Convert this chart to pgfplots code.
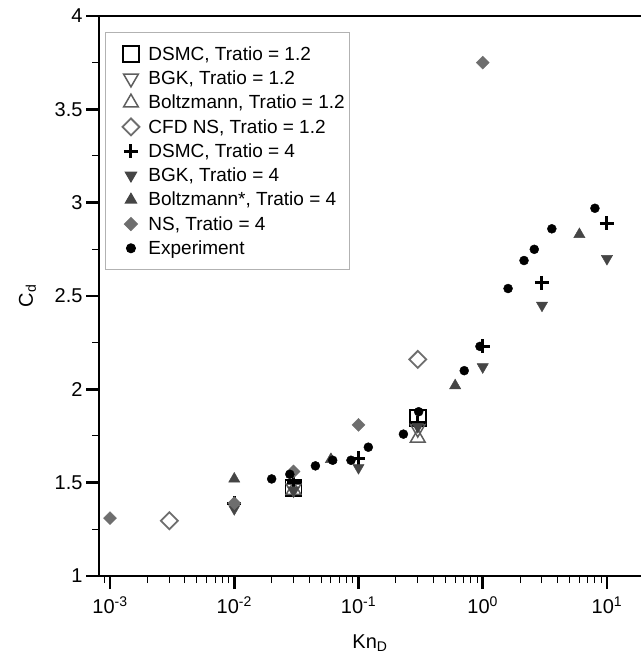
\documentclass[border=0pt]{standalone}
\usepackage{fontspec}
\setmainfont{Liberation Sans}
\usepackage{pgfplots}
\pgfplotsset{compat=1.18}
\definecolor{ngray}{HTML}{6E6E6E}
\definecolor{dgray}{HTML}{454545}
\definecolor{ogray}{HTML}{5E5E5E}
\begin{document}
\begin{tikzpicture}
\begin{axis}[
  scale only axis, width=542pt, height=560pt,
  xmode=log, xmin=8.15e-4, xmax=18.8, ymin=1, ymax=4,
  axis x line=box, axis y line=left, axis line style={-, line width=2.5pt},
  xtick pos=bottom, ytick pos=left,
  xtick={1e-3,1e-2,1e-1,1,10},
  xticklabels={10\textsuperscript{-3},10\textsuperscript{-2},10\textsuperscript{-1},10\textsuperscript{0},10\textsuperscript{1}},
  minor xtick={8e-4,9e-4,2e-3,3e-3,4e-3,5e-3,6e-3,7e-3,8e-3,9e-3,2e-2,3e-2,4e-2,5e-2,6e-2,7e-2,8e-2,9e-2,0.2,0.3,0.4,0.5,0.6,0.7,0.8,0.9,2,3,4,5,6,7,8,9},
  ytick={1,1.5,2,2.5,3,3.5,4}, yticklabels={1,1.5,2,2.5,3,3.5,4},
  minor ytick={1.25,1.75,2.25,2.75,3.25,3.75},
  tick align=outside,
  major tick length=13pt, minor tick length=7pt,
  every major tick/.append style={line width=2.5pt, black},
  every minor tick/.append style={line width=1pt, black},
  tick label style={font=\fontsize{20}{23}\selectfont},
  xticklabel style={yshift=-4pt},
  xlabel={Kn\textsubscript{D}}, ylabel={C\textsubscript{d}},
  label style={font=\fontsize{20}{23}\selectfont},
  xlabel style={at={(axis description cs:0.5,-0.1196)}, anchor=center},
  ylabel style={at={(axis description cs:-0.132,0.5)}, anchor=center},
  legend style={at={(0.011,0.9714)}, anchor=north west, draw=gray!60, line width=1pt,
    font=\fontsize{19}{23}\selectfont, cells={anchor=west}, row sep=5pt, inner ysep=12pt},
  legend cell align=left,
  legend image code/.code={\path (0pt,0pt) (35pt,0pt); \draw[#1] plot coordinates {(21pt,0pt)};},
]
\addplot[only marks, mark=square, mark size=8pt, line width=1.8pt, black] coordinates {(0.03,1.47) (0.3,1.845)};
\addlegendentry{DSMC, Tratio = 1.2}
\addplot[only marks, mark=triangle, mark size=8.5pt, line width=1.5pt, ogray, mark options={rotate=180}] coordinates {(0.03,1.47) (0.3,1.79)};
\addlegendentry{BGK, Tratio = 1.2}
\addplot[only marks, mark=triangle, mark size=8.5pt, line width=1.5pt, ogray] coordinates {(0.03,1.46) (0.3,1.74)};
\addlegendentry{Boltzmann, Tratio = 1.2}
\addplot[only marks, mark=square, mark size=6pt, line width=1.8pt, ngray, mark options={rotate=45}] coordinates {(0.003,1.296) (0.3,2.16)};
\addlegendentry{CFD NS, Tratio = 1.2}
\addplot[only marks, mark=+, mark size=7pt, line width=3pt, black] coordinates {(0.01,1.39) (0.03,1.50) (0.1,1.63) (0.3,1.82) (1,2.23) (3,2.57) (10,2.89)};
\addlegendentry{DSMC, Tratio = 4}
\addplot[only marks, mark=triangle*, mark size=6.5pt, dgray, mark options={rotate=180, draw=dgray, fill=dgray}] coordinates {(0.01,1.36) (0.03,1.46) (0.1,1.58) (0.3,1.80) (1,2.12) (3,2.45) (10,2.70)};
\addlegendentry{BGK, Tratio = 4}
\addplot[only marks, mark=triangle*, mark size=6.5pt, dgray, mark options={draw=dgray, fill=dgray}] coordinates {(0.01,1.52) (0.06,1.625) (0.6,2.02) (6,2.83)};
\addlegendentry{Boltzmann*, Tratio = 4}
\addplot[only marks, mark=square*, mark size=4.6pt, ngray, mark options={rotate=45, draw=ngray, fill=ngray}] coordinates {(0.001,1.31) (0.01,1.39) (0.03,1.56) (0.1,1.81) (1,3.75)};
\addlegendentry{NS, Tratio = 4}
\addplot[only marks, mark=*, mark size=4.5pt, black] coordinates {(0.02,1.52) (0.028,1.545) (0.045,1.59) (0.062,1.62) (0.087,1.62) (0.12,1.69) (0.23,1.76) (0.305,1.88) (0.71,2.10) (0.95,2.23) (1.6,2.54) (2.15,2.69) (2.6,2.75) (3.6,2.86) (8.0,2.97)};
\addlegendentry{Experiment}
\coordinate (sw) at (rel axis cs:0,0);
\coordinate (ne) at (rel axis cs:1,1);
\end{axis}
\pgfresetboundingbox
\path[use as bounding box] ([shift={(-99pt,-81pt)}]sw) rectangle ([shift={(0pt,16pt)}]ne);
\end{tikzpicture}
\end{document}
